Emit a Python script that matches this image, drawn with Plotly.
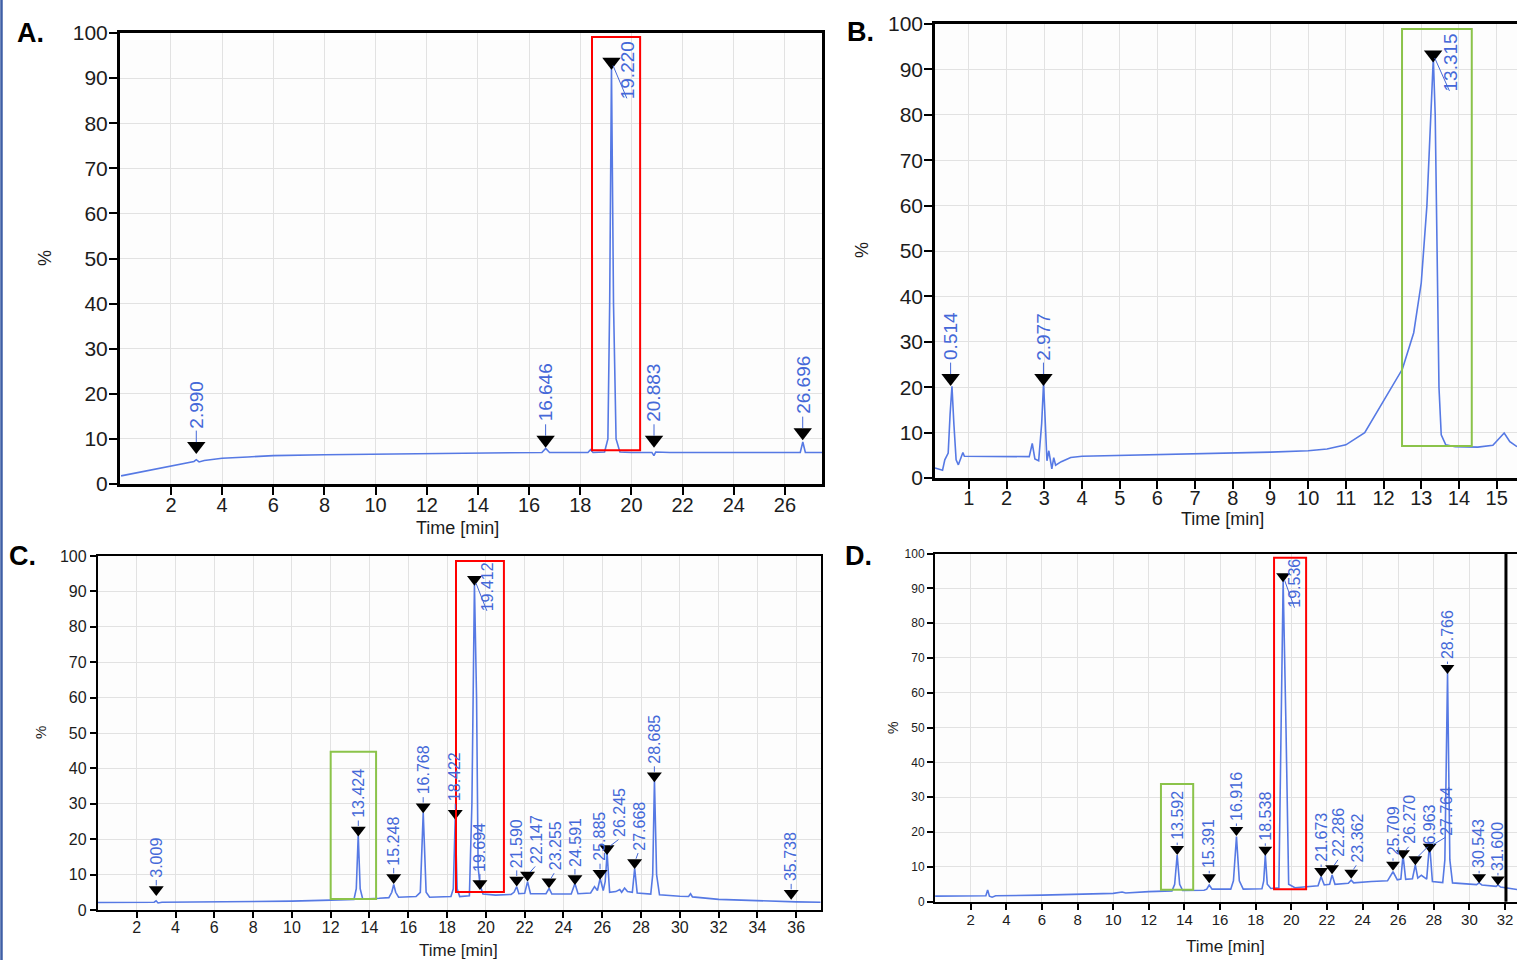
import plotly.graph_objects as go

LINE = "#5679e4"
TXT = "#4468d8"
FONT = "Liberation Sans, Arial, sans-serif"
W, H = 1517, 960

# ---------------- Panel A ----------------
A_time = [0.05, 1.0, 2.0, 2.9, 2.99, 3.1, 3.3, 4.0, 5.0, 6.0, 8.0, 10.0, 12.0, 14.0, 16.0, 16.5,
          16.65, 16.8, 17.5, 18.3, 18.4, 18.5, 18.95, 19.08, 19.15, 19.22, 19.3, 19.4, 19.55,
          20.0, 20.8, 20.88, 20.95, 21.5, 23.0, 25.0, 26.6, 26.7, 26.8, 27.45]
A_pct = [1.8, 2.9, 4.0, 5.0, 5.4, 4.9, 5.2, 5.7, 6.0, 6.3, 6.5, 6.65, 6.8, 6.9, 7.0, 7.0,
         7.9, 7.0, 7.0, 7.0, 7.6, 7.0, 7.1, 10.0, 40.0, 92.5, 40.0, 10.0, 7.1,
         7.0, 7.0, 6.3, 7.1, 7.0, 7.0, 7.0, 7.0, 9.3, 7.0, 7.0]
A_peaks = ["2.990", "16.646", "19.220", "20.883", "26.696"]
A_peak_y = [8.4, 9.8, 93.6, 9.8, 11.5]

# ---------------- Panel B ----------------
B_time = [0.1, 0.3, 0.36, 0.45, 0.5, 0.55, 0.6, 0.66, 0.72, 0.8, 0.84, 0.88, 1.5, 2.6, 2.68,
          2.75, 2.85, 2.93, 2.98, 3.03, 3.07, 3.12, 3.17, 3.2, 3.25, 3.3, 3.45, 3.7, 4.0, 6.0,
          8.0, 9.0, 10.0, 10.5, 11.0, 11.5, 12.0, 12.5, 12.8, 13.0, 13.15, 13.25, 13.32, 13.37,
          13.42, 13.47, 13.53, 13.65, 13.9, 14.5, 14.9, 15.05, 15.2, 15.35, 15.54]
B_pct = [2.2, 1.7, 4.0, 5.5, 14.0, 20.2, 12.0, 4.0, 2.9, 4.6, 5.6, 4.8, 4.8, 4.7, 7.6,
         4.2, 3.8, 12.0, 20.9, 10.0, 3.8, 6.0, 3.0, 2.0, 4.5, 2.8, 3.6, 4.5, 4.8, 5.1,
         5.5, 5.7, 6.0, 6.4, 7.3, 10.0, 17.0, 24.0, 32.0, 43.0, 60.0, 80.0, 92.5, 80.0,
         50.0, 20.0, 9.5, 7.3, 6.9, 6.8, 7.2, 8.5, 9.9, 8.0, 6.9]
B_peaks = ["0.514", "2.977", "13.315"]
B_peak_y = [22.0, 22.0, 93.3]

# ---------------- Panel C ----------------
C_time = [0.0, 2.9, 3.0, 3.1, 3.3, 6.0, 10.0, 12.0, 13.2, 13.32, 13.42, 13.52, 13.65, 14.5,
          15.0, 15.15, 15.25, 15.35, 15.5, 16.4, 16.62, 16.77, 16.92, 17.1, 18.2, 18.32, 18.42,
          18.52, 18.65, 19.15, 19.28, 19.41, 19.52, 19.6, 19.7, 19.85, 20.5, 21.3, 21.45, 21.59,
          21.7, 22.0, 22.15, 22.3, 23.1, 23.26, 23.4, 24.4, 24.59, 24.75, 25.4, 25.6, 25.75,
          25.89, 26.05, 26.15, 26.25, 26.38, 26.7, 26.9, 27.0, 27.15, 27.3, 27.55, 27.67, 27.8,
          28.5, 28.6, 28.69, 28.8, 28.95, 30.0, 30.45, 30.55, 30.65, 32.0, 34.0, 36.0, 37.26]
C_pct = [2.1, 2.2, 2.6, 2.0, 2.2, 2.3, 2.5, 2.8, 3.0, 6.0, 21.2, 6.0, 3.1, 3.3,
         3.5, 5.0, 7.2, 5.0, 3.6, 3.8, 5.0, 27.5, 5.0, 3.6, 3.8, 6.0, 26.0,
         6.0, 3.8, 4.0, 30.0, 92.0, 60.0, 12.0, 7.0, 4.5, 4.2, 4.4, 5.0, 6.6,
         4.6, 4.7, 8.0, 4.6, 4.6, 6.1, 4.5, 4.5, 7.5, 4.6, 4.8, 6.6, 5.5,
         8.9, 5.5, 8.0, 16.0, 5.0, 5.2, 5.8, 5.0, 6.2, 5.2, 5.0, 11.8, 4.8,
         4.5, 10.0, 36.7, 10.0, 4.3, 3.9, 3.8, 4.6, 3.7, 3.0, 2.6, 2.3, 2.2]
C_peaks = ["3.009", "13.424", "15.248", "16.768", "18.422", "19.412", "19.694", "21.590",
           "22.147", "23.255", "24.591", "25.885", "26.245", "27.668", "28.685", "35.738"]
C_peak_y = [5.8, 22.6, 9.2, 29.2, 27.3, 93.4, 7.5, 8.5, 9.9, 8.0, 8.9, 10.4, 17.4, 13.4, 37.9, 4.7]

# ---------------- Panel D ----------------
D_time = [0.0, 2.85, 2.95, 3.05, 3.2, 3.4, 6.0, 8.0, 10.0, 10.5, 10.7, 12.0, 13.3, 13.45, 13.59,
          13.73, 13.9, 15.1, 15.25, 15.39, 15.55, 16.6, 16.75, 16.92, 17.08, 17.3, 18.35, 18.45,
          18.54, 18.65, 18.85, 19.3, 19.42, 19.54, 19.7, 19.85, 20.2, 21.0, 21.5, 21.67, 21.85,
          22.15, 22.29, 22.45, 23.2, 23.36, 23.5, 24.5, 25.4, 25.71, 25.95, 26.15, 26.27, 26.42,
          26.8, 26.96, 27.1, 27.3, 27.45, 27.6, 27.76, 27.92, 28.5, 28.62, 28.77, 28.9, 29.05,
          29.7, 30.4, 30.54, 30.7, 31.5, 31.6, 31.75, 32.67]
D_pct = [1.6, 1.7, 3.4, 1.6, 1.3, 1.7, 1.9, 2.1, 2.4, 2.8, 2.5, 2.9, 3.1, 5.0, 13.4,
         5.0, 3.2, 3.3, 3.6, 4.8, 3.6, 3.6, 6.0, 18.7, 6.0, 3.6, 3.7, 6.0,
         13.4, 5.0, 3.8, 4.0, 50.0, 92.0, 50.0, 5.0, 4.0, 4.4, 4.6, 7.2, 4.8,
         5.0, 7.7, 5.0, 5.3, 6.2, 5.4, 5.8, 6.0, 8.6, 6.3, 6.5, 13.4, 6.4,
         6.6, 10.6, 6.8, 7.6, 7.0, 6.5, 16.8, 5.8, 5.5, 12.0, 65.7, 12.0, 5.4,
         5.2, 4.9, 5.4, 4.8, 4.4, 4.8, 4.2, 3.5]
D_peaks = ["13.592", "15.391", "16.916", "18.538", "19.536", "21.673", "22.286", "23.362",
           "25.709", "26.270", "26.963", "27.764", "28.766", "30.543", "31.600"]
D_peak_y = [15.1, 7.0, 20.6, 14.9, 93.5, 8.8, 9.6, 8.3, 10.6, 13.9, 12.2, 15.8, 67.1, 7.0, 6.4]
D_shown_text = {"26.963": "6.963"}   # leading digit hidden behind a marker in the original

# Highlight boxes (time range, % range)
A_red = [18.46, 20.34, 7.5, 99.1]
B_green = [12.49, 14.34, 7.05, 98.9]
C_red = [18.46, 20.93, 5.1, 98.6]
C_green = [12.0, 14.34, 3.1, 44.7]
D_red = [19.03, 20.83, 3.6, 98.8]
D_green = [12.68, 14.49, 3.4, 33.8]

# label offsets in pixels (dx, dy to text bottom) -- style only
LEAD = {
    "A": {"19.220": (16, 38)},
    "B": {"13.315": (17, 38)},
    "C": {"19.412": (13, 33), "22.147": (9, -10), "23.255": (6, -10), "26.245": (13, -10),
          "27.668": (4, -11)},
    "D": {"19.536": (12, 33), "22.286": (7, -10), "23.362": (6, -9), "26.270": (7, -8),
          "26.963": (14, -14), "27.764": (17, -10)},
}


def px(x):
    return x / W


def py(y):
    return 1 - y / H


def text_len(s, fs):
    n_dig = sum(c.isdigit() for c in s)
    n_dot = s.count(".")
    return fs * (0.556 * n_dig + 0.278 * n_dot)


panels = [
    dict(key="A", sfx="", t=A_time, v=A_pct, peaks=A_peaks, py_=A_peak_y,
         xd=[px(119.8), px(822)], yd=[py(484), py(33)], xr=[0, 27.45],
         xt=list(range(2, 27, 2)), big=True, msize=16, lfont=19, dy=-17,
         boxes=[(A_red, "#ff0000")], mirror_y=True, sx=-7, sy=-3),
    dict(key="B", sfx="2", t=B_time, v=B_pct, peaks=B_peaks, py_=B_peak_y,
         xd=[px(935), 1.0], yd=[py(478), py(24)], xr=[0.1, 15.54],
         xt=list(range(1, 16)), big=True, msize=16, lfont=19, dy=-17,
         boxes=[(B_green, "#8bc34a")], mirror_y=False, sx=-8, sy=-3),
    dict(key="C", sfx="3", t=C_time, v=C_pct, peaks=C_peaks, py_=C_peak_y,
         xd=[px(97.9), px(820.7)], yd=[py(910), py(556)], xr=[0, 37.26],
         xt=list(range(2, 37, 2)), big=False, msize=13, lfont=16, dy=-11,
         boxes=[(C_red, "#ff0000"), (C_green, "#8bc34a")], mirror_y=True, sx=-4, sy=0),
    dict(key="D", sfx="4", t=D_time, v=D_pct, peaks=D_peaks, py_=D_peak_y,
         xd=[px(935.1), 1.0], yd=[py(901.7), py(553.5)], xr=[0, 32.67],
         xt=list(range(2, 33, 2)), big=False, msize=12, lfont=16, dy=-8,
         boxes=[(D_red, "#ff0000"), (D_green, "#8bc34a")], mirror_y=False, sx=-3, sy=0),
]

fig = go.Figure()
shapes = []
annotations = []
layout = {}

for p in panels:
    xa = "x" + p["sfx"]
    ya = "y" + p["sfx"]
    fig.add_trace(go.Scatter(x=p["t"], y=p["v"], mode="lines",
                             line=dict(color=LINE, width=1.6), xaxis=xa, yaxis=ya,
                             showlegend=False, hoverinfo="skip"))
    fig.add_trace(go.Scatter(x=[float(s) for s in p["peaks"]], y=p["py_"], mode="markers",
                             marker=dict(symbol="triangle-down", size=p["msize"], color="black"),
                             xaxis=xa, yaxis=ya, showlegend=False, hoverinfo="skip"))
    if p["big"]:
        tfx, tfy, lw, tw = 20, 21, 2.6, 2
    elif p["key"] == "C":
        tfx, tfy, lw, tw = 16, 16, 2.2, 1.6
    else:
        tfx, tfy, lw, tw = 15, 12, 2.2, 1.5
    layout["xaxis" + p["sfx"]] = dict(
        domain=p["xd"], range=p["xr"], anchor=ya, tickvals=p["xt"], ticks="outside",
        ticklen=8 if p["big"] else 6, tickwidth=tw, tickcolor="black", showline=True,
        linecolor="black", linewidth=lw, mirror=True, showgrid=True, gridcolor="#e2e2e2",
        gridwidth=1, zeroline=False, automargin=False, ticklabelstandoff=p["sx"],
        tickfont=dict(family=FONT, size=tfx, color="#1c1c1c"), fixedrange=True)
    layout["yaxis" + p["sfx"]] = dict(
        domain=p["yd"], range=[0, 100], anchor=xa, tickvals=list(range(0, 101, 10)),
        ticks="outside", ticklen=8 if p["big"] else 6, tickwidth=tw, tickcolor="black",
        showline=True, linecolor="black", linewidth=lw, mirror=p["mirror_y"], showgrid=True,
        gridcolor="#e2e2e2", gridwidth=1, zeroline=False, automargin=False,
        ticklabelstandoff=p["sy"],
        tickfont=dict(family=FONT, size=tfy, color="#1c1c1c"), fixedrange=True)
    for box, col in p["boxes"]:
        shapes.append(dict(type="rect", xref=xa, yref=ya, x0=box[0], x1=box[1], y0=box[2],
                           y1=box[3], line=dict(color=col, width=2), fillcolor="rgba(0,0,0,0)",
                           layer="above"))
    for lbl, yv in zip(p["peaks"], p["py_"]):
        dx, dy = LEAD[p["key"]].get(lbl, (0, p["dy"]))
        text = D_shown_text.get(lbl, lbl) if p["key"] == "D" else lbl
        L = text_len(text, p["lfont"])
        # leader line from marker to the start of the label
        annotations.append(dict(
            x=float(lbl), y=yv, xref=xa, yref=ya, text="", showarrow=True, arrowhead=0,
            arrowwidth=1, arrowcolor=TXT, ax=dx, ay=dy, standoff=4))
        # rotated label, its start at (dx, dy) px from the marker
        annotations.append(dict(
            x=float(lbl), y=yv, xref=xa, yref=ya, text=text, showarrow=False,
            xanchor="center", yanchor="middle", xshift=dx, yshift=-dy + L / 2 + 1,
            textangle=-90, borderpad=0,
            font=dict(family=FONT, size=p["lfont"], color=TXT)))

# right border line in panel D
shapes.append(dict(type="line", xref="x4", yref="y4 domain", x0=32.05, x1=32.05, y0=0, y1=1,
                   line=dict(color="black", width=3)))
# left frame line of the figure
shapes.append(dict(type="line", xref="paper", yref="paper", x0=px(1.5), x1=px(1.5), y0=0, y1=1,
                   line=dict(color="#3f5fa6", width=2.5)))

# panel letters
for txt, x, y in [("A.", 30, 33), ("B.", 860, 32), ("C.", 22, 556), ("D.", 858, 556)]:
    annotations.append(dict(x=px(x), y=py(y), xref="paper", yref="paper", text="<b>%s</b>" % txt,
                            showarrow=False, xanchor="center", yanchor="middle",
                            font=dict(family=FONT, size=27, color="black")))
# axis titles
for x, y, s in [(457, 528, 18), (1222, 519, 18), (458, 950, 17), (1225, 946, 17)]:
    annotations.append(dict(x=px(x), y=py(y), xref="paper", yref="paper", text="Time [min]",
                            showarrow=False, xanchor="center", yanchor="middle",
                            font=dict(family=FONT, size=s, color="#1c1c1c")))
for x, y, s in [(45, 258, 18), (862, 250, 18), (40, 733, 15), (893, 728, 14)]:
    annotations.append(dict(x=px(x), y=py(y), xref="paper", yref="paper", text="%",
                            showarrow=False, xanchor="center", yanchor="middle", textangle=-90,
                            font=dict(family=FONT, size=s, color="#1c1c1c")))

fig.update_layout(width=W, height=H, margin=dict(l=0, r=0, t=0, b=0, autoexpand=False),
                  paper_bgcolor="white", plot_bgcolor="#fdfdfd", showlegend=False,
                  shapes=shapes, annotations=annotations, **layout)

fig.write_html("out.html", config={"displayModeBar": False},
               post_script="document.body.style.margin='0';document.body.style.overflow='hidden';")
